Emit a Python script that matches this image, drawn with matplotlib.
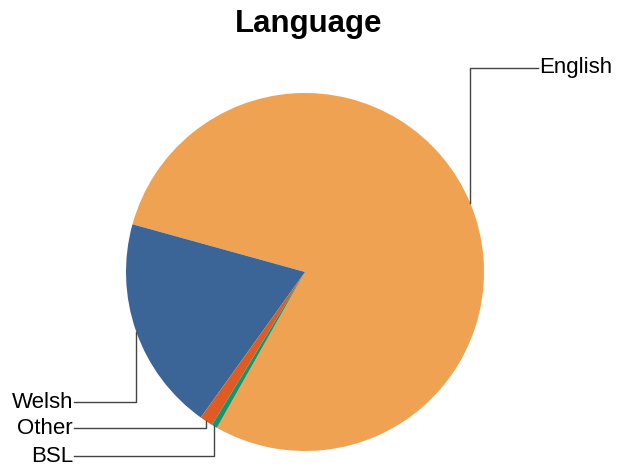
import matplotlib
matplotlib.use('Agg')
import numpy as np
import matplotlib.pyplot as plt

# Data
languages = ['English', 'Welsh', 'Other', 'BSL']
shares = [78.9, 19.4, 1.2, 0.5]
colors = ['#EEA252', '#3A6596', '#E05A24', '#11966E']

# label layout (pixel rows, from top) and side
label_rows = [68, 402, 428, 456]
label_side = ['right', 'left', 'left', 'left']

W, H = 619, 466
plt.rcParams['font.family'] = ['Liberation Sans', 'DejaVu Sans']

fig = plt.figure(figsize=(W / 100, H / 100), dpi=100)
ax = fig.add_axes([0, 0, 1, 1])

cx, cy, r = 305, H - 272, 179
wedges, _ = ax.pie(shares, colors=colors, startangle=240.5,
                   center=(cx, cy), radius=r,
                   wedgeprops=dict(linewidth=0))
ax.set_xlim(0, W)
ax.set_ylim(0, H)
ax.set_aspect('equal')
ax.axis('off')

for w, name, row, side in zip(wedges, languages, label_rows, label_side):
    mid = np.deg2rad((w.theta1 + w.theta2) / 2)
    x0 = cx + r * np.cos(mid)
    y0 = cy + r * np.sin(mid)
    ly = H - row
    if side == 'right':
        tx = 538
        ax.plot([x0, x0, tx], [y0, ly, ly], color='#444444', lw=1)
        ax.text(tx + 1, ly, name, ha='left', va='center', fontsize=16)
    else:
        tx = 74
        ax.plot([x0, x0, tx], [y0, ly, ly], color='#444444', lw=1)
        ax.text(tx - 1, ly, name, ha='right', va='center', fontsize=16)

fig.text(309 / W, 1 - 24 / H, 'Language', ha='center', va='center',
         fontsize=22.5, fontweight='bold')

fig.savefig('out.png', dpi=100)
